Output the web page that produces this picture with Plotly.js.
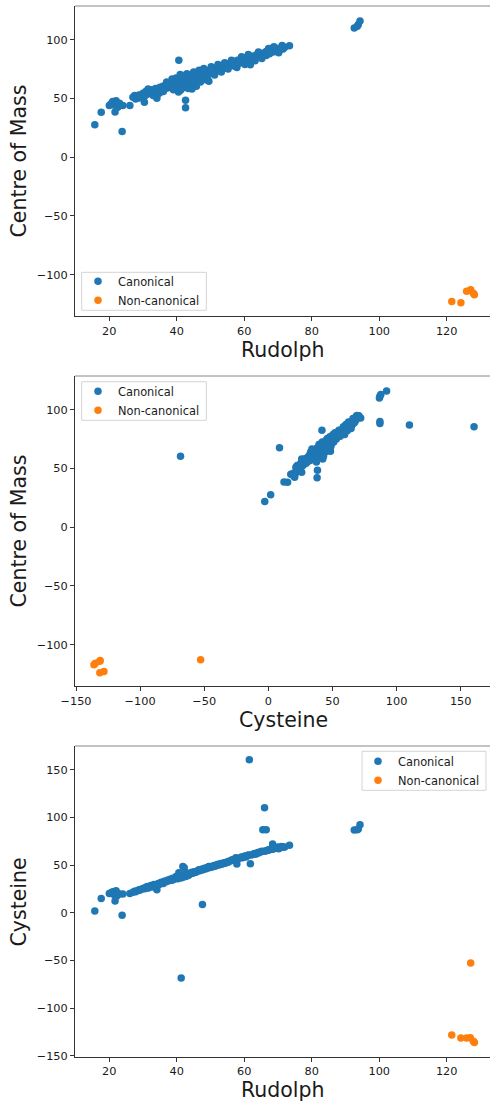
<!DOCTYPE html>
<html>
<head>
<meta charset="utf-8">
<script src="https://cdn.plot.ly/plotly-3.0.1.min.js"></script>
<style>
html,body{margin:0;padding:0;background:#fff;}
#chart{width:490px;height:1102px;}
</style>
</head>
<body>
<div id="chart"></div>
<script>
// Canonical residues: Rudolph angle, Centre-of-Mass angle, Cysteine angle (aligned by index)
const canonRudolph = [
  15.7, 17.6, 20.0, 20.5, 21.0, 21.3, 21.7, 22.0, 22.2, 22.5,
  23.0, 23.8, 24.0, 26.1, 27.0, 27.5, 28.2, 28.8, 29.5, 30.0,
  30.4, 30.8, 31.2, 31.8, 32.3, 32.8, 33.2, 33.7, 34.1, 34.5,
  35.0, 35.4, 35.9, 36.3, 36.8, 37.2, 37.6, 38.0, 38.4, 38.8,
  39.2, 39.6, 40.0, 40.3, 40.6, 40.8, 41.1, 41.3, 41.5, 41.8,
  42.0, 42.3, 42.6, 42.6, 42.8, 43.2, 43.6, 44.0, 44.4, 44.5,
  44.8, 45.2, 45.6, 46.0, 46.4, 46.8, 47.3, 47.6, 47.8, 48.2,
  48.7, 49.1, 49.5, 49.6, 50.0, 50.5, 51.0, 51.5, 52.0, 52.5,
  53.0, 53.5, 54.0, 54.5, 55.0, 55.5, 56.0, 56.5, 57.0, 57.5,
  57.8, 58.0, 58.5, 59.0, 59.5, 60.0, 60.5, 61.0, 61.5, 61.8,
  62.0, 62.5, 63.0, 63.5, 64.0, 64.5, 65.0, 65.5, 66.0, 66.5,
  66.0, 66.5, 67.0, 67.5, 68.0, 68.4, 68.5, 69.0, 69.5, 70.0,
  70.5, 71.0, 71.5, 72.0, 73.4, 27.8, 29.0, 30.5, 31.5, 33.0,
  34.8, 36.0, 37.0, 38.6, 39.0, 39.8, 40.5, 41.0, 41.7, 42.2,
  43.0, 43.4, 44.2, 45.0, 45.8, 46.6, 47.0, 48.0, 49.0, 50.2,
  51.2, 52.2, 53.2, 54.2, 55.2, 56.2, 57.2, 59.2, 60.2, 61.2,
  63.2, 64.2, 65.2, 67.2, 68.8, 70.2, 71.2, 92.6, 93.5, 93.8,
  94.3
];
const canonCoM = [
  27.6, 38.3, 44.0, 45.5, 47.5, 44.5, 38.5, 48.0, 45.0, 42.5,
  46.0, 21.9, 44.0, 44.0, 51.0, 52.5, 50.5, 53.0, 52.0, 54.5,
  46.8, 56.0, 53.5, 55.0, 57.5, 54.0, 56.5, 58.5, 50.2, 57.0,
  59.5, 56.5, 60.5, 58.0, 62.0, 59.0, 61.0, 63.5, 60.0, 62.5,
  64.5, 58.5, 61.5, 66.0, 82.6, 63.0, 57.0, 60.4, 65.5, 68.0,
  62.0, 69.5, 48.5, 42.0, 64.0, 66.5, 61.0, 68.5, 65.0, 58.0,
  70.5, 67.0, 63.5, 69.5, 71.5, 66.5, 68.5, 67.6, 72.0, 70.0,
  66.0, 73.5, 64.7, 71.0, 74.5, 72.5, 75.5, 73.0, 76.5, 74.5,
  77.0, 75.0, 78.5, 76.0, 79.5, 77.5, 80.5, 78.0, 81.5, 79.5,
  76.3, 82.5, 80.0, 83.5, 81.5, 84.5, 82.0, 85.5, 85.4, 78.6,
  83.0, 86.0, 84.5, 87.0, 85.5, 88.0, 86.0, 88.2, 87.1, 90.0,
  89.0, 86.5, 90.5, 88.0, 91.0, 93.0, 89.5, 92.0, 90.0, 92.5,
  91.0, 93.0, 92.0, 93.5, 94.8, 49.5, 50.5, 52.0, 58.0, 52.5,
  54.5, 56.0, 64.0, 66.5, 57.5, 67.5, 55.5, 70.5, 59.0, 66.5,
  71.0, 58.5, 63.0, 72.5, 60.5, 74.0, 64.0, 75.5, 68.0, 77.0,
  70.0, 79.0, 72.5, 80.5, 75.0, 82.5, 77.5, 85.5, 79.0, 87.5,
  82.0, 89.5, 84.0, 92.5, 94.0, 89.0, 95.0, 110.0, 111.5, 113.0,
  116.0
];
const canonCys = [
  1.8, 15.0, 20.0, 21.0, 22.0, 19.0, 12.2, 23.0, 17.5, 20.5,
  19.5, -2.8, 19.5, 20.0, 21.5, 22.5, 23.0, 24.0, 24.5, 25.5,
  26.0, 26.0, 27.5, 26.5, 28.5, 28.0, 29.5, 29.0, 24.1, 30.5,
  31.0, 32.0, 31.5, 33.0, 32.5, 34.0, 33.5, 35.0, 34.5, 36.0,
  35.0, 36.5, 37.0, 35.5, 41.8, 38.0, 36.5, -68.5, 38.5, 48.5,
  39.0, 40.0, 38.3, 38.0, 39.5, 41.0, 40.0, 40.5, 42.0, 42.4,
  41.5, 43.0, 42.5, 43.5, 44.5, 44.0, 45.5, 8.7, 45.0, 46.5,
  46.0, 47.5, 48.4, 47.0, 48.5, 48.0, 49.5, 49.0, 50.5, 50.0,
  51.5, 51.0, 52.5, 52.0, 53.5, 54.0, 54.5, 55.5, 55.0, 57.5,
  51.0, 56.5, 57.0, 58.0, 57.5, 59.0, 58.5, 60.0, 160.4, 51.4,
  60.5, 61.0, 62.0, 61.5, 63.0, 63.5, 64.0, 87.0, 110.0, 87.0,
  64.5, 65.0, 65.5, 66.0, 67.0, 72.0, 66.5, 68.0, 67.5, 69.0,
  68.0, 69.5, 68.5, 69.0, 70.6, 22.0, 23.5, 25.0, 26.0, 27.0,
  29.5, 30.5, 33.0, 34.0, 35.5, 38.0, 37.5, 39.5, 37.0, 47.0,
  41.5, 39.0, 41.0, 42.0, 43.0, 45.0, 44.5, 46.0, 47.5, 48.0,
  49.0, 50.5, 51.0, 52.0, 53.0, 55.0, 56.0, 58.5, 59.5, 60.5,
  61.5, 62.5, 64.5, 66.0, 68.5, 67.0, 69.0, 86.6, 87.0, 87.7,
  92.2
];
// Non-canonical residues
const nonRudolph = [121.5, 124.2, 125.9, 127.1, 127.9, 128.2, 127.0];
const nonCoM     = [-122.8, -123.9, -114.0, -112.9, -115.7, -117.0, -113.5];
const nonCys     = [-128.2, -131.4, -131.4, -52.8, -134.9, -136.0, -131.2];

const seriesNames = ['Canonical', 'Non-canonical'];
const colors = ['#1f77b4', '#ff7f0e'];

const W = 490, H = 1102;
const FONT = 'DejaVu Sans, Liberation Sans, sans-serif';
const TXT = '#1a1a1a';
const px = v => v / W;
const py = v => 1 - v / H;

function tr(x, y, i, xa, ya, lg) {
  return {
    type: 'scatter', mode: 'markers', x: x, y: y, name: seriesNames[i],
    xaxis: xa, yaxis: ya, legend: lg, showlegend: true,
    marker: {color: colors[i], size: 7.5, line: {width: 0}},
    hoverinfo: 'skip'
  };
}

const data = [
  tr(canonRudolph, canonCoM, 0, 'x', 'y', 'legend'),
  tr(nonRudolph, nonCoM, 1, 'x', 'y', 'legend'),
  tr(canonCys, canonCoM, 0, 'x2', 'y2', 'legend2'),
  tr(nonCys, nonCoM, 1, 'x2', 'y2', 'legend2'),
  tr(canonRudolph, canonCys, 0, 'x3', 'y3', 'legend3'),
  tr(nonRudolph, nonCys, 1, 'x3', 'y3', 'legend3')
];

const tickfont = {family: FONT, size: 11.3, color: TXT};
function xax(range, dtick, anchor) {
  return {
    domain: [px(75), 1], range: range, dtick: dtick, tick0: 0, anchor: anchor,
    showgrid: false, zeroline: false, showline: true, linecolor: '#333', linewidth: 1,
    ticks: 'outside', ticklen: 4, tickwidth: 1, tickcolor: '#333', tickfont: tickfont,
    fixedrange: true
  };
}
function yax(range, dtick, top, bottom, anchor) {
  return {
    domain: [py(bottom), py(top)], range: range, dtick: dtick, tick0: 0, anchor: anchor,
    showgrid: false, zeroline: false, showline: true, linecolor: '#333', linewidth: 1,
    ticks: 'outside', ticklen: 4, tickwidth: 1, tickcolor: '#333', tickfont: tickfont,
    fixedrange: true
  };
}

const legendBase = {
  bgcolor: 'rgba(0,0,0,0)', borderwidth: 0,
  font: {family: FONT, size: 11.4, color: TXT}, tracegroupgap: 0, itemwidth: 30
};

const titleFont = {family: FONT, size: 20.5, color: TXT};
function ann(text, x, y, rot) {
  return {text: text, xref: 'paper', yref: 'paper', x: px(x), y: py(y),
    xanchor: 'center', yanchor: 'middle', showarrow: false, textangle: rot || 0, font: titleFont};
}

// legend frames (matplotlib-like)
const legendBoxes = [[81.7, 272.3, 206.3, 310.3], [81.7, 381.7, 206.3, 420.3], [362, 751.3, 486, 790.3]];
const frameShapes = legendBoxes.map(b => ({type: 'rect', xref: 'paper', yref: 'paper', layer: 'above',
  x0: px(b[0]), x1: px(b[2]), y0: py(b[3]), y1: py(b[1]),
  fillcolor: 'rgba(255,255,255,0.8)', line: {color: '#d4d4d4', width: 1}}));
const topLines = [6, 376, 746].map(t => ({type: 'line', xref: 'paper', yref: 'paper',
  x0: px(75), x1: 1, y0: py(t), y1: py(t), line: {color: '#888', width: 1}}));

const layout = {
  width: W, height: H,
  margin: {l: 0, r: 0, t: 0, b: 0, pad: 0},
  paper_bgcolor: '#fff', plot_bgcolor: '#fff',
  xaxis: xax([9.83, 132.83], 20, 'y'),
  yaxis: yax([-135.15, 128.7], 50, 6, 316, 'x'),
  xaxis2: xax([-150.78, 172.85], 50, 'y2'),
  yaxis2: yax([-135.15, 128.7], 50, 376, 686, 'x2'),
  xaxis3: xax([9.83, 132.83], 20, 'y3'),
  yaxis3: yax([-150.8, 174.8], 50, 746, 1056.5, 'x3'),
  legend: Object.assign({}, legendBase, {x: px(78), y: py(290.7), xanchor: 'left', yanchor: 'middle'}),
  legend2: Object.assign({}, legendBase, {x: px(78), y: py(400.8), xanchor: 'left', yanchor: 'middle'}),
  legend3: Object.assign({}, legendBase, {x: px(358), y: py(770.8), xanchor: 'left', yanchor: 'middle'}),
  shapes: topLines.concat(frameShapes),
  annotations: [
    ann('Rudolph', 283, 350),
    ann('Centre of Mass', 18.5, 161, -90),
    ann('Cysteine', 283, 720),
    ann('Centre of Mass', 18.5, 531, -90),
    ann('Rudolph', 283, 1090),
    ann('Cysteine', 18.5, 902, -90)
  ]
};

Plotly.newPlot('chart', data, layout, {staticPlot: true, displayModeBar: false});
</script>
</body>
</html>
